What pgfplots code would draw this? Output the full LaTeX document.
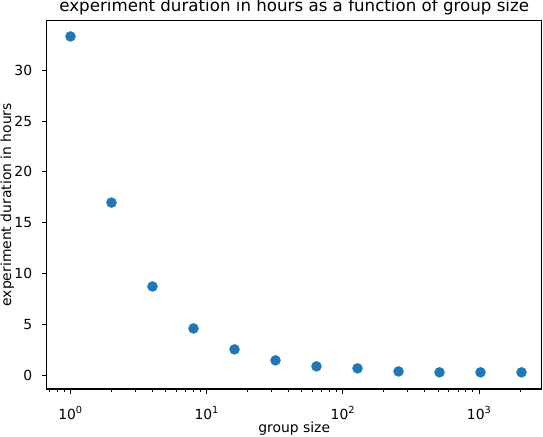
\documentclass[border=0pt]{standalone}
\usepackage{pgfplots}
\pgfplotsset{compat=1.18}
\usepackage{fontspec}
\setmainfont{DejaVu Sans}
\definecolor{mplblue}{HTML}{1F77B4}
\begin{document}
\begin{tikzpicture}
\useasboundingbox (0,0) rectangle (543bp,437bp);
\begin{axis}[
  at={(46.7bp,48bp)}, anchor=south west,
  scale only axis, width=495bp, height=368.5bp,
  xmode=log, xmin=0.669, xmax=2881, ymin=-1.37, ymax=34.9,
  axis line style={line width=1.11bp},
  tick align=outside, xtick pos=bottom, ytick pos=left,
  major tick length=4.86bp, minor tick length=2.78bp,
  major tick style={line width=1.11bp, black},
  minor tick style={line width=0.83bp, black},
  ytick={0,5,10,15,20,25,30},
  xtick={1,10,100,1000},
  xticklabels={10\textsuperscript{0},10\textsuperscript{1},10\textsuperscript{2},10\textsuperscript{3}},
  minor xtick={0.7,0.8,0.9,2,3,4,5,6,7,8,9,20,30,40,50,60,70,80,90,200,300,400,500,600,700,800,900,2000},
  /pgf/number format/assume math mode=true,
  tick label style={font=\fontsize{13.9bp}{16bp}\selectfont},
  xticklabel style={anchor=base},
  xticklabel shift=25.3bp,
  yticklabel style={anchor=east, inner sep=0pt},
  yticklabel shift=9.5bp,
  every axis title shift=0pt,
  title={experiment duration in hours as a function of group size},
  title style={at={(axis description cs:0.5,1.02388)}, anchor=base, inner sep=0pt, font=\fontsize{16.67bp}{20bp}\selectfont},
  xlabel={group size},
  xlabel style={at={(axis description cs:0.5,-0.11832)}, anchor=base, inner sep=0pt, font=\fontsize{13.9bp}{16bp}\selectfont},
  ylabel={experiment duration in hours},
  ylabel style={at={(axis description cs:-0.0717,0.5)}, anchor=base, inner sep=0pt, font=\fontsize{13.9bp}{16bp}\selectfont},
]
\addplot[only marks, mark=*, mark size=5.1bp, mark options={fill=mplblue, draw=mplblue, line width=0.2bp}]
coordinates {
(1,33.33) (2,16.98) (4,8.72) (8,4.59) (16,2.53) (32,1.45)
(64,0.86) (128,0.66) (256,0.36) (512,0.27) (1024,0.27) (2048,0.27)
};
\end{axis}
\end{tikzpicture}
\end{document}
